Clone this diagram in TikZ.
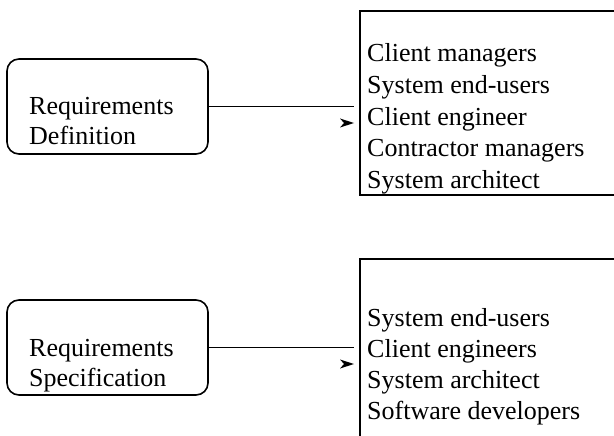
\documentclass[tikz,border=0pt]{standalone}
\usepackage{fontspec}
\setmainfont{Liberation Serif}
\usetikzlibrary{calc}
\tikzset{
  procbox/.style={draw, line width=1.6pt, rounded corners=12pt, minimum width=201pt, minimum height=95pt, inner sep=0pt},
  lbl/.style={anchor=base west, inner sep=0pt, font=\fontsize{26}{31}\selectfont},
  frame/.style={line width=1.7pt},
  conn/.style={line width=1.6pt},
  tipshape/.style={fill=black},
}
\begin{document}
\begin{tikzpicture}[x=1pt,y=-1pt]
\useasboundingbox (0,0) rectangle (614,436);
% ---- top group ----
\node[procbox] (rd1) at (107.5,106.5) {};
\node[lbl] (rd1a) at (29,115) {Requirements};
\node[lbl] (rd1b) at (29,145) {Definition};
\draw[frame] (614,11) -- (360,11) -- (360,195) -- (614,195);
\coordinate (e1) at (354,106.5);
\node[lbl] (p1a) at (367,62) {Client managers};
\node[lbl] (p1b) at (367,93.5) {System end-users};
\node[lbl] (p1c) at (367,125) {Client engineer};
\node[lbl] (p1d) at (367,156.5) {Contractor managers};
\node[lbl] (p1e) at (367,188) {System architect};
\draw[conn] (rd1.east) -- (e1);
\fill[tipshape] ($(e1)+(-14,12)$) -- ($(e1)+(0,16.5)$) -- ($(e1)+(-14,21)$) -- ($(e1)+(-10,16.5)$) -- cycle;
% ---- bottom group ----
\node[procbox] (rd2) at (107.5,347.5) {};
\node[lbl] (rd2a) at (29,356) {Requirements};
\node[lbl] (rd2b) at (29,386) {Specification};
\draw[frame] (614,259) -- (360,259) -- (360,436);
\coordinate (e2) at (354,347.5);
\node[lbl] (p2a) at (367,326) {System end-users};
\node[lbl] (p2b) at (367,357) {Client engineers};
\node[lbl] (p2c) at (367,388) {System architect};
\node[lbl] (p2d) at (367,419) {Software developers};
\draw[conn] (rd2.east) -- (e2);
\fill[tipshape] ($(e2)+(-14,12)$) -- ($(e2)+(0,16.5)$) -- ($(e2)+(-14,21)$) -- ($(e2)+(-10,16.5)$) -- cycle;
\end{tikzpicture}
\end{document}
